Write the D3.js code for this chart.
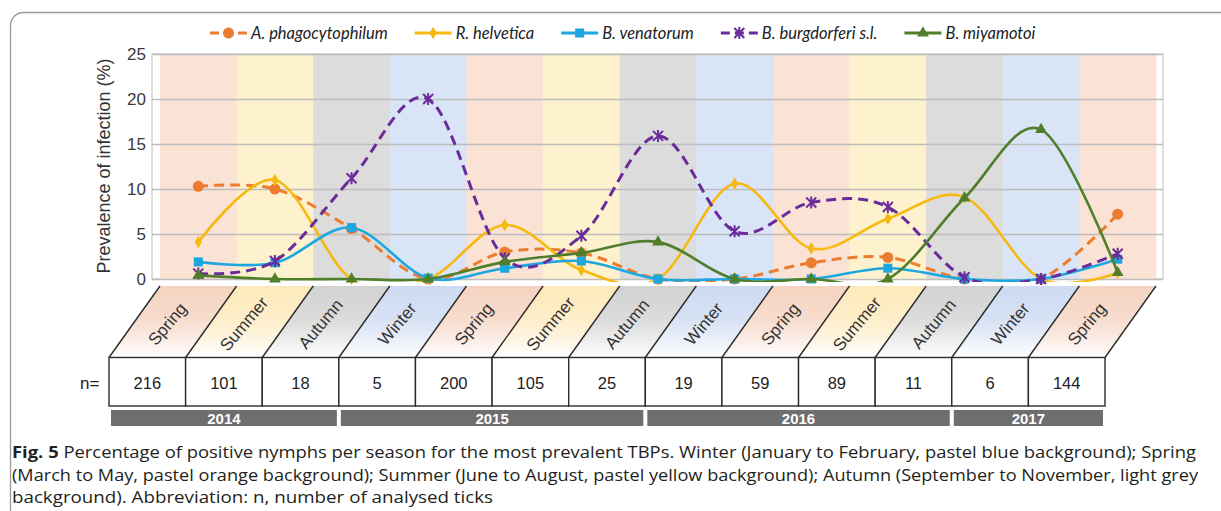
<!DOCTYPE html>
<html>
<head>
<meta charset="utf-8">
<script src="https://cdn.jsdelivr.net/npm/d3@7"></script>
<style>
  body { margin: 0; background: #fff; }
  svg text { font-family: "Liberation Sans", Arial, sans-serif; }
</style>
</head>
<body>
<div class="chart"></div>
<script>
// ---- data ----
const seasons = ["Spring", "Summer", "Autumn", "Winter", "Spring", "Summer", "Autumn",
                 "Winter", "Spring", "Summer", "Autumn", "Winter", "Spring"];
const nValues = [216, 101, 18, 5, 200, 105, 25, 19, 59, 89, 11, 6, 144];
const yearLabels = ["2014", "2015", "2016", "2017"];
const yearSeasonCount = [3, 4, 4, 2];
const yTicks = [0, 5, 10, 15, 20, 25];

const seriesNames = ["A. phagocytophilum", "R. helvetica", "B. venatorum", "B. burgdorferi s.l.", "B. miyamotoi"];
const aPhagocytophilum = [10.3, 10.0, 5.6, 0, 3.0, 2.9, 0, 0, 1.8, 2.4, 0, 0, 7.2];
const rHelvetica       = [4.1, 11.0, 0, 0, 6.0, 1.0, 0, 10.6, 3.4, 6.7, 9.1, 0, 0.7];
const bVenatorum       = [1.9, 1.8, 5.7, 0.1, 1.2, 2.0, 0, 0, 0, 1.2, 0, 0, 2.2];
const bBurgdorferi     = [0.6, 2.0, 11.2, 20.0, 2.3, 4.8, 15.9, 5.3, 8.5, 8.0, 0.2, 0, 2.8];
const bMiyamotoi       = [0.4, 0, 0, 0, 1.9, 2.9, 4.1, 0, 0, 0, 9.0, 16.6, 0.7];

const caption = [
  "Percentage of positive nymphs per season for the most prevalent TBPs. Winter (January to February, pastel blue background); Spring",
  "(March to May, pastel orange background); Summer (June to August, pastel yellow background); Autumn (September to November, light grey",
  "background). Abbreviation: n, number of analysed ticks"
];

// ---- styles ----
const bandColor = { Spring: "#fae2d4", Summer: "#fef1cd", Autumn: "#dcdcdc", Winter: "#d9e4f6" };
const tagColor  = { Spring: "#f5d3c0", Summer: "#fde9bb", Autumn: "#d2d2d2", Winter: "#cddaf2" };
const styles = [
  { color: "#ec7c30", dash: "10,6", marker: "circle" },
  { color: "#f6b912", dash: null,   marker: "diamond" },
  { color: "#1ca7e1", dash: null,   marker: "square" },
  { color: "#6a2c9a", dash: "10,6", marker: "star" },
  { color: "#4f7f2b", dash: null,   marker: "triangle" }
];
const allSeries = [aPhagocytophilum, rHelvetica, bVenatorum, bBurgdorferi, bMiyamotoi];

const svgWidth = 1221;
const svgHeight = 511;
const plot = { left: 152, right: 1163, top: 54, bottom: 279 };
const shear = 51;

let svg = d3.select(".chart")
            .append("svg")
            .attr("width", svgWidth)
            .attr("height", svgHeight);

// outer rounded frame
svg.append("rect")
   .attr("x", 10.5).attr("y", 12.5)
   .attr("width", 1300).attr("height", 560)
   .attr("rx", 13)
   .attr("fill", "none")
   .attr("stroke", "#9a9a9a")
   .attr("stroke-width", 1.3);

const xScale = d3.scaleBand()
                 .domain(d3.range(seasons.length))
                 .range([160, 1156])
                 .padding(0);
const bw = xScale.bandwidth();
const xMid = i => xScale(i) + bw / 2;

const yScale = d3.scaleLinear()
                 .domain([0, 25])
                 .range([plot.bottom, plot.top]);

// plot frame + season bands
svg.append("rect")
   .attr("x", plot.left).attr("y", plot.top)
   .attr("width", plot.right - plot.left).attr("height", plot.bottom - plot.top)
   .attr("fill", "#fff")
   .attr("stroke", "#c9c9c9")
   .attr("stroke-width", 1.2);

svg.selectAll("rect.band")
   .data(seasons)
   .enter()
   .append("rect")
   .attr("class", "band")
   .attr("x", (d, i) => xScale(i))
   .attr("y", plot.top)
   .attr("width", bw + 0.5)
   .attr("height", plot.bottom - plot.top)
   .attr("fill", d => bandColor[d]);

// gridlines
svg.append("g")
   .attr("transform", "translate(" + plot.left + ",0)")
   .call(d3.axisLeft(yScale).tickValues(yTicks).tickSize(-(plot.right - plot.left)).tickFormat(""))
   .call(g => g.select(".domain").remove())
   .call(g => g.selectAll("line").attr("stroke", "#bdbdbd").attr("stroke-width", 1.5));

// y axis labels
svg.append("g")
   .attr("transform", "translate(" + plot.left + ",0)")
   .call(d3.axisLeft(yScale).tickValues(yTicks).tickSize(0).tickPadding(6))
   .call(g => g.select(".domain").remove())
   .call(g => g.selectAll("text")
               .attr("font-size", 17)
               .attr("fill", "#3a3a3a")
               .style("font-family", "'Liberation Sans', Arial, sans-serif"));

svg.append("text")
   .attr("transform", "translate(110,166) rotate(-90)")
   .attr("text-anchor", "middle")
   .attr("font-size", 18)
   .attr("fill", "#333")
   .text("Prevalence of infection (%)");

// lines
svg.append("clipPath")
   .attr("id", "plot-clip")
   .append("rect")
   .attr("x", plot.left).attr("y", plot.top - 4)
   .attr("width", plot.right - plot.left).attr("height", plot.bottom - plot.top + 7);

const line = d3.line()
               .x((d, i) => xMid(i))
               .y(d => yScale(d))
               .curve(d3.curveCardinal.tension(0));

function drawMarker(g, type, color) {
  if (type === "circle") {
    g.append("circle").attr("r", 5.5).attr("fill", color);
  } else if (type === "diamond") {
    g.append("path").attr("d", d3.symbol(d3.symbolDiamond, 46)()).attr("fill", color);
  } else if (type === "square") {
    g.append("path").attr("d", d3.symbol(d3.symbolSquare, 82)()).attr("fill", color);
  } else if (type === "triangle") {
    g.append("path").attr("d", d3.symbol(d3.symbolTriangle, 60)()).attr("fill", color);
  } else if (type === "star") {
    g.append("path")
     .attr("d", "M-5,-5L5,5M-5,5L5,-5M0,-6L0,6")
     .attr("stroke", color)
     .attr("stroke-width", 2)
     .attr("fill", "none");
  }
}

allSeries.forEach((values, k) => {
  const st = styles[k];
  svg.append("path")
     .attr("clip-path", "url(#plot-clip)")
     .attr("d", line(values))
     .attr("fill", "none")
     .attr("stroke", st.color)
     .attr("stroke-width", st.dash ? 3 : 2.6)
     .attr("stroke-dasharray", st.dash);

  values.forEach((v, i) => {
    const g = svg.append("g").attr("transform", "translate(" + xMid(i) + "," + yScale(v) + ")");
    drawMarker(g, st.marker, st.color);
  });
});

// legend
let lx = 210;
seriesNames.forEach((name, k) => {
  const st = styles[k];
  const g = svg.append("g").attr("transform", "translate(" + lx + ",33)");
  g.append("line")
   .attr("x1", 0).attr("x2", 37)
   .attr("stroke", st.color)
   .attr("stroke-width", 3)
   .attr("stroke-dasharray", st.dash ? "9,5" : null);
  const m = g.append("g").attr("transform", "translate(18.5,0)");
  drawMarker(m, st.marker, st.color);
  const t = g.append("text")
             .attr("x", 41)
             .attr("y", 5.5)
             .attr("font-size", 16.5)
             .attr("font-style", "italic")
             .attr("fill", "#222")
             .style("font-family", "Lato, 'Open Sans', sans-serif")
             .text(name);
  lx += 41 + t.node().getComputedTextLength() + 27;
});

// season tags (sheared boxes)
const tagTop = 286;
const tagBottom = 357.5;
const boxBottom = 406;

const defs = svg.append("defs");
Object.keys(tagColor).forEach(s => {
  const gr = defs.append("linearGradient")
                 .attr("id", "grad-" + s)
                 .attr("x1", 0).attr("y1", 0).attr("x2", 0).attr("y2", 1);
  gr.append("stop").attr("offset", "0%").attr("stop-color", tagColor[s]);
  gr.append("stop").attr("offset", "45%").attr("stop-color", tagColor[s]).attr("stop-opacity", 0.8);
  gr.append("stop").attr("offset", "100%").attr("stop-color", "#fff");
});

svg.selectAll("path.tag")
   .data(seasons)
   .enter()
   .append("path")
   .attr("class", "tag")
   .attr("d", (d, i) => {
      const x0 = xScale(i);
      return "M" + x0 + "," + tagTop + "L" + (x0 + bw) + "," + tagTop +
             "L" + (x0 + bw - shear) + "," + tagBottom + "L" + (x0 - shear) + "," + tagBottom + "Z";
   })
   .attr("fill", d => "url(#grad-" + d + ")");

svg.selectAll("line.slant")
   .data(d3.range(seasons.length + 1))
   .enter()
   .append("line")
   .attr("class", "slant")
   .attr("x1", i => 160 + i * bw).attr("y1", tagTop)
   .attr("x2", i => 160 + i * bw - shear).attr("y2", tagBottom)
   .attr("stroke", "#2b2b2b")
   .attr("stroke-width", 1.4);

svg.selectAll("text.season")
   .data(seasons)
   .enter()
   .append("text")
   .attr("class", "season")
   .attr("transform", (d, i) => "translate(" + (xMid(i) - shear / 2 - 1) + "," + ((tagTop + tagBottom) / 2 + 6) + ") rotate(-50)")
   .attr("text-anchor", "middle")
   .attr("font-size", 17)
   .attr("fill", "#333")
   .text(d => d);

// n boxes
svg.selectAll("rect.nbox")
   .data(nValues)
   .enter()
   .append("rect")
   .attr("class", "nbox")
   .attr("x", (d, i) => xScale(i) - shear)
   .attr("y", tagBottom)
   .attr("width", bw)
   .attr("height", boxBottom - tagBottom)
   .attr("fill", "#fff")
   .attr("stroke", "#2b2b2b")
   .attr("stroke-width", 1.4);

svg.selectAll("text.nval")
   .data(nValues)
   .enter()
   .append("text")
   .attr("class", "nval")
   .attr("x", (d, i) => xMid(i) - shear)
   .attr("y", 389)
   .attr("text-anchor", "middle")
   .attr("font-size", 16.5)
   .attr("fill", "#222")
   .text(d => d);

svg.append("text")
   .attr("x", 80).attr("y", 389)
   .attr("font-size", 17)
   .attr("fill", "#222")
   .text("n=");

// year bars
let start = 0;
yearLabels.forEach((yr, k) => {
  const x0 = xScale(start) - shear + 2;
  const x1 = xScale(start + yearSeasonCount[k] - 1) + bw - shear - 2;
  svg.append("rect")
     .attr("x", x0).attr("y", 410)
     .attr("width", x1 - x0).attr("height", 16)
     .attr("fill", "#6e6e6e");
  svg.append("text")
     .attr("x", (x0 + x1) / 2).attr("y", 423.5)
     .attr("text-anchor", "middle")
     .attr("font-size", 15)
     .attr("font-weight", "bold")
     .attr("fill", "#fff")
     .text(yr);
  start += yearSeasonCount[k];
});

// caption
const capWidths = [1184, 1186, 481];
caption.forEach((txt, k) => {
  const t = svg.append("text")
               .attr("x", 12)
               .attr("y", 458 + k * 22.5)
               .attr("font-size", 16.5)
               .attr("fill", "#231f20")
               .style("font-family", "'Open Sans', 'Noto Sans', sans-serif")
               .attr("textLength", capWidths[k])
               .attr("lengthAdjust", "spacingAndGlyphs");
  if (k === 0) {
    t.append("tspan").attr("font-weight", "bold").text("Fig. 5");
    t.append("tspan").text("  " + txt);
  } else {
    t.text(txt);
  }
});
</script>
</body>
</html>
